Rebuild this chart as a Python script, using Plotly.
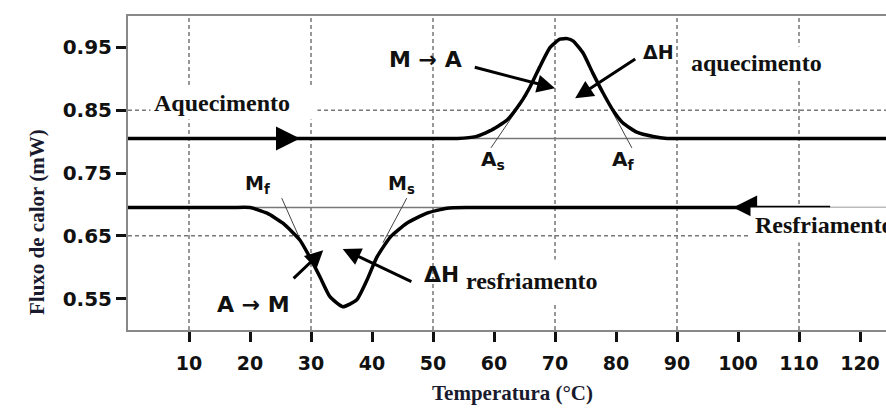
import plotly.graph_objects as go

# ---------------- data ----------------
heat_T = [0, 50, 54, 57, 59.3, 62.1, 64.3, 65.9, 67.5, 69.2, 70.8, 72.0, 73.0,
          74.6, 76.2, 77.9, 79.5, 81.1, 83.4, 86.1, 88.4, 92, 125]
heat_flux = [0.805, 0.805, 0.805, 0.808, 0.817, 0.834, 0.861, 0.887, 0.919, 0.950,
             0.963, 0.964, 0.960, 0.941, 0.909, 0.877, 0.850, 0.830, 0.815,
             0.808, 0.805, 0.805, 0.805]

cool_T = [0, 17, 20, 22.8, 25.4, 28.2, 29.8, 31.5, 33.1, 35.2, 37.5, 39.2, 40.8,
          43.0, 45.7, 49.0, 52.3, 56, 115.1]
cool_flux = [0.695, 0.695, 0.695, 0.686, 0.670, 0.643, 0.616, 0.584, 0.553, 0.537,
             0.548, 0.580, 0.616, 0.648, 0.670, 0.686, 0.694, 0.695, 0.695]

baseline_T = [0, 125]
heat_base = [0.805, 0.805]
cool_base = [0.695, 0.695]

# tangent construction lines (onset / finish temperatures)
tan_As_T, tan_As_v = [59.5, 65.4], [0.790, 0.874]
tan_Af_T, tan_Af_v = [82.6, 79.5], [0.790, 0.846]
tan_Mf_T, tan_Mf_v = [25.2, 29.0], [0.710, 0.627]
tan_Ms_T, tan_Ms_v = [45.7, 41.8], [0.710, 0.639]

x_ticks = [10, 20, 30, 40, 50, 60, 70, 80, 90, 100, 110, 120]
y_ticks = [0.55, 0.65, 0.75, 0.85, 0.95]
y_ticklabels = ["0.55", "0.65", "0.75", "0.85", "0.95"]
grid_x = [10, 30, 50, 70, 90, 110]
grid_y = [0.85, 0.65]

X_RANGE = [0, 124.26]
Y_RANGE = [0.5, 1.0]

SANS = "DejaVu Sans"
SERIF = "Liberation Serif"
INK = "#111111"

fig = go.Figure()

# thin baselines
for base in (heat_base, cool_base):
    fig.add_trace(go.Scatter(x=baseline_T, y=base, mode="lines",
                             line=dict(color="#777777", width=1.5),
                             hoverinfo="skip", showlegend=False))

# tangent lines
for tx, ty in ((tan_As_T, tan_As_v), (tan_Af_T, tan_Af_v),
               (tan_Mf_T, tan_Mf_v), (tan_Ms_T, tan_Ms_v)):
    fig.add_trace(go.Scatter(x=tx, y=ty, mode="lines",
                             line=dict(color="#444444", width=1),
                             hoverinfo="skip", showlegend=False))

# DSC curves
fig.add_trace(go.Scatter(x=heat_T, y=heat_flux, mode="lines",
                         line=dict(color="black", width=3.5, shape="spline", smoothing=0.5),
                         showlegend=False, name="Aquecimento"))
fig.add_trace(go.Scatter(x=cool_T, y=cool_flux, mode="lines",
                         line=dict(color="black", width=3.5, shape="spline", smoothing=0.5),
                         showlegend=False, name="Resfriamento"))

# dashed grid lines
shapes = []
for gx in grid_x:
    shapes.append(dict(type="line", xref="x", yref="paper", x0=gx, x1=gx, y0=0, y1=1,
                       line=dict(color="#777777", width=1.5, dash="4px,3px"), layer="below"))
for gy in grid_y:
    shapes.append(dict(type="line", xref="paper", yref="y", x0=0, x1=1, y0=gy, y1=gy,
                       line=dict(color="#777777", width=1.5, dash="4px,3px"), layer="below"))

annotations = []

def arrow(tx, ty, sx, sy, size=1.0):
    annotations.append(dict(x=tx, y=ty, ax=sx, ay=sy, xref="x", yref="y",
                            axref="x", ayref="y", text="", showarrow=True,
                            arrowhead=2, arrowsize=size, arrowwidth=3,
                            arrowcolor="black"))

def label(x, y, text, size, family=SANS, bg=None, xanchor="center", **kw):
    d = dict(x=x, y=y, xref="x", yref="y", text=text, showarrow=False,
             xanchor=xanchor, yanchor="middle",
             font=dict(family=family, size=size, color=INK, weight="bold"))
    if bg:
        d["bgcolor"] = bg
    d.update(kw)
    annotations.append(d)

# direction arrows on baselines
arrow(28.2, heat_base[0], 22.0, heat_base[0], 1.6)
arrow(99.2, cool_base[0], 105.0, cool_base[0], 1.6)

# pointer arrows
arrow(70.0, 0.885, 56.6, 0.919, 1.2)
arrow(73.3, 0.869, 83.4, 0.933, 1.2)
arrow(32.0, 0.627, 26.9, 0.580, 1.2)
arrow(35.2, 0.629, 46.7, 0.576, 1.2)

# text labels
label(48.7, 0.931, "M → A", 22)
label(59.9, 0.771, "A<sub>s</sub>", 20)
label(81.2, 0.771, "A<sub>f</sub>", 20)
label(87.0, 0.943, "ΔH", 19)
label(91.6, 0.925, "aquecimento", 24, family=SERIF, bg="white", xanchor="left", borderpad=3)
label(3.6, 0.861, "Aquecimento", 24, family=SERIF, bg="white", xanchor="left",
      width=160, align="left", borderpad=3)
label(21.3, 0.731, "M<sub>f</sub>", 19)
label(44.9, 0.731, "M<sub>s</sub>", 19)
label(20.6, 0.540, "A → M", 22)
label(51.4, 0.588, "ΔH", 22)
label(54.0, 0.578, "resfriamento", 24, family=SERIF, bg="white", xanchor="left",
      borderpad=8)
label(102.0, 0.667, "Resfriamento", 24, family=SERIF, bg="white", xanchor="left", borderpad=4)

# axis titles
annotations.append(dict(x=-0.1385, y=0.344, xref="paper", yref="paper",
                        text="Fluxo de calor (mW)", textangle=-90, showarrow=False,
                        font=dict(family=SERIF, size=21, color="#1a1a2e", weight="bold")))
annotations.append(dict(x=0.5066, y=-0.245, xref="paper", yref="paper",
                        text="Temperatura (°C)", showarrow=False,
                        font=dict(family=SERIF, size=21, color="#1a1a2e", weight="bold")))

fig.update_layout(
    width=886, height=420,
    margin=dict(l=128, r=0, t=16, b=90),
    paper_bgcolor="white", plot_bgcolor="white",
    shapes=shapes, annotations=annotations,
    xaxis=dict(range=X_RANGE, tickvals=x_ticks, ticktext=[str(v) for v in x_ticks],
               showgrid=False, zeroline=False,
               showline=True, linecolor="#888888", linewidth=2, mirror=True,
               ticks="outside", ticklen=10, tickwidth=3, tickcolor="#111111",
               ticklabelstandoff=5,
               tickfont=dict(family=SANS, size=19, color=INK, weight="bold")),
    yaxis=dict(range=Y_RANGE, tickvals=y_ticks, ticktext=y_ticklabels,
               showgrid=False, zeroline=False,
               showline=True, linecolor="#888888", linewidth=2,
               ticks="outside", ticklen=10, tickwidth=3, tickcolor="#111111",
               tickfont=dict(family=SANS, size=20, color=INK, weight="bold")),
)

fig.write_html("out.html")
